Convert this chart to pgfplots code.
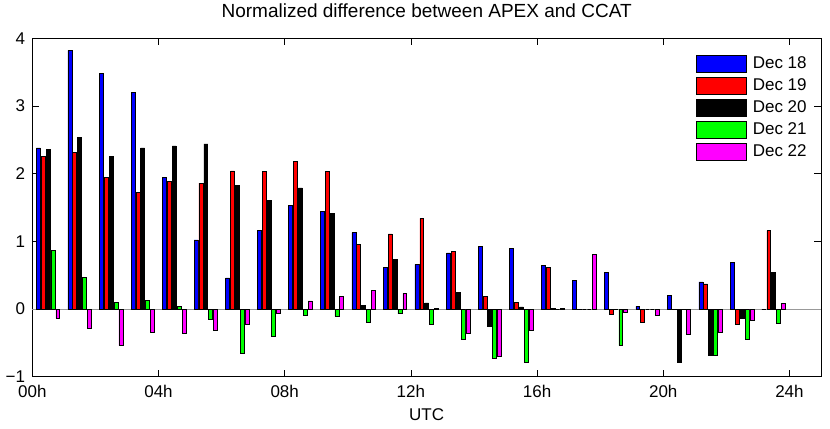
\documentclass[border=0pt]{standalone}
\usepackage{fontspec}
\setmainfont{Liberation Sans}
\usepackage{pgfplots}
\pgfplotsset{compat=1.18}
\usepackage{pgfplotstable}

% one table per day, hour-group centre and normalized difference
\pgfplotstableread{
x y
0.5 2.38
1.5 3.82
2.5 3.48
3.5 3.20
4.5 1.95
5.5 1.02
6.5 0.46
7.5 1.16
8.5 1.53
9.5 1.44
10.5 1.13
11.5 0.61
12.5 0.66
13.5 0.83
14.5 0.92
15.5 0.90
16.5 0.64
17.5 0.42
18.5 0.54
19.5 0.04
20.5 0.20
21.5 0.40
22.5 0.69
23.5 0.00
}\dayA
\pgfplotstableread{
x y
0.5 2.25
1.5 2.31
2.5 1.94
3.5 1.72
4.5 1.88
5.5 1.86
6.5 2.04
7.5 2.03
8.5 2.18
9.5 2.03
10.5 0.95
11.5 1.11
12.5 1.34
13.5 0.85
14.5 0.19
15.5 0.10
16.5 0.61
17.5 -0.01
18.5 -0.08
19.5 -0.20
20.5 -0.01
21.5 0.37
22.5 -0.22
23.5 1.16
}\dayB
\pgfplotstableread{
x y
0.5 2.36
1.5 2.53
2.5 2.26
3.5 2.38
4.5 2.41
5.5 2.44
6.5 1.83
7.5 1.60
8.5 1.79
9.5 1.41
10.5 0.05
11.5 0.73
12.5 0.09
13.5 0.24
14.5 -0.25
15.5 0.03
16.5 0.01
17.5 0.00
18.5 0.00
19.5 0.00
20.5 -0.79
21.5 -0.69
22.5 -0.14
23.5 0.54
}\dayC
\pgfplotstableread{
x y
0.5 0.87
1.5 0.47
2.5 0.10
3.5 0.13
4.5 0.04
5.5 -0.15
6.5 -0.65
7.5 -0.41
8.5 -0.09
9.5 -0.11
10.5 -0.20
11.5 -0.07
12.5 -0.23
13.5 -0.45
14.5 -0.73
15.5 -0.78
16.5 0.00
17.5 0.00
18.5 -0.54
19.5 0.00
20.5 0.00
21.5 -0.68
22.5 -0.45
23.5 -0.21
}\dayD
\pgfplotstableread{
x y
0.5 -0.14
1.5 -0.29
2.5 -0.54
3.5 -0.34
4.5 -0.36
5.5 -0.32
6.5 -0.23
7.5 -0.06
8.5 0.12
9.5 0.19
10.5 0.28
11.5 0.23
12.5 0.01
13.5 -0.36
14.5 -0.70
15.5 -0.32
16.5 0.01
17.5 0.81
18.5 -0.05
19.5 -0.10
20.5 -0.38
21.5 -0.34
22.5 -0.17
23.5 0.08
}\dayE

\begin{document}
\begin{tikzpicture}
\useasboundingbox (-32.3bp,-52.3bp) rectangle (797.7bp,376.7bp);
\begin{axis}[
  at={(0,0)}, anchor=south west,
  scale only axis, width=788.7bp, height=338.4bp,
  xmin=0, xmax=25, ymin=-1, ymax=4,
  xtick={0,4,8,12,16,20,24},
  xticklabels={00h,04h,08h,12h,16h,20h,24h},
  ytick={-1,0,1,2,3,4},
  yticklabels={−1,0,1,2,3,4},
  tick align=inside, major tick length=7bp,
  tick style={black, line width=0.6bp},
  axis line style={black, line width=0.9bp},
  font=\fontsize{17bp}{20bp}\selectfont,
  /pgf/number format/assume math mode=true,
  xticklabel style={anchor=base, yshift=-21.3bp},
  yticklabel style={anchor=east, inner sep=0pt, xshift=-7bp},
  title={Normalized difference between APEX and CCAT},
  title style={at={(0.5,1)}, anchor=base, yshift=15bp, font=\fontsize{19bp}{22bp}\selectfont},
  xlabel={UTC},
  xlabel style={at={(axis description cs:0.5,0)}, anchor=base, yshift=-43.3bp},
  extra y ticks={0}, extra y tick labels={},
  extra y tick style={grid=major, major grid style={draw=gray!80, line width=0.8bp}, major tick length=0pt},
  bar width=0.125,
  every axis plot/.append style={draw=black, line width=0.6bp},
  legend image code/.code={\draw[#1] (0bp,-8.3bp) rectangle (50bp,8.3bp);},
  legend cell align=left,
  legend style={draw=none, fill=none, at={(0.8377,0.9574)}, anchor=north west,
    row sep=4.8bp, column sep=6bp, nodes={inner sep=0pt}},
]
\addplot[ybar, bar shift=-0.308, fill={rgb,1:red,0;green,0;blue,1}] table {\dayA};
\addlegendentry{Dec 18}
\addplot[ybar, bar shift=-0.154, fill={rgb,1:red,1;green,0;blue,0}] table {\dayB};
\addlegendentry{Dec 19}
\addplot[ybar, bar shift=0, fill=black] table {\dayC};
\addlegendentry{Dec 20}
\addplot[ybar, bar shift=0.154, fill={rgb,1:red,0;green,1;blue,0}] table {\dayD};
\addlegendentry{Dec 21}
\addplot[ybar, bar shift=0.308, fill={rgb,1:red,1;green,0;blue,1}] table {\dayE};
\addlegendentry{Dec 22}
\end{axis}
\end{tikzpicture}
\end{document}
